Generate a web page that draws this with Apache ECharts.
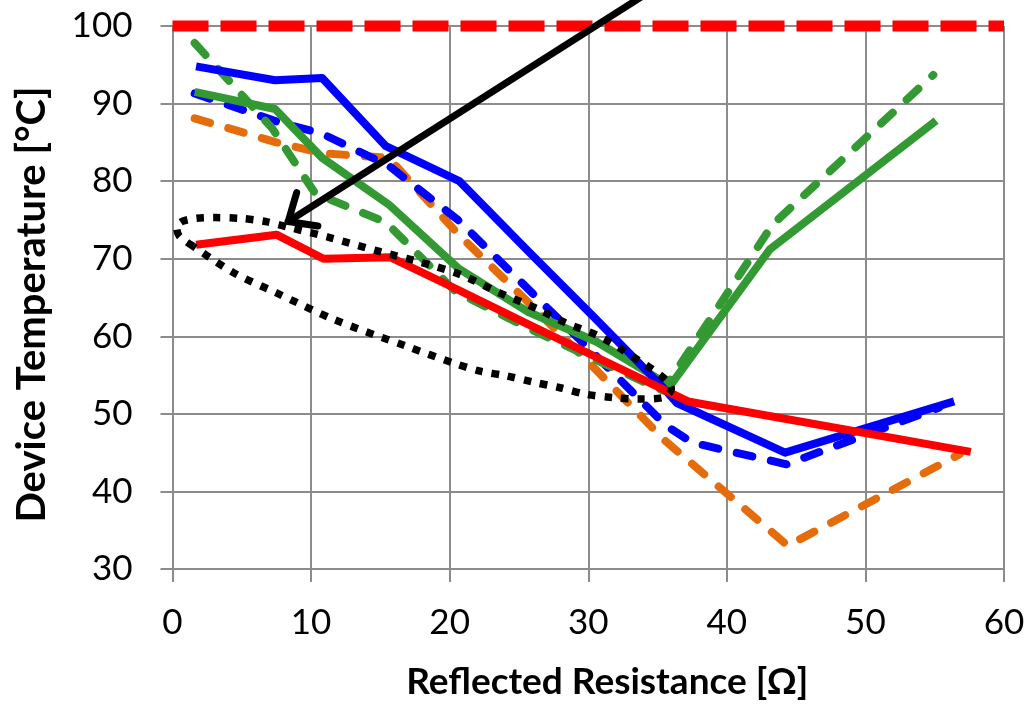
<!DOCTYPE html>
<html>
<head>
<meta charset="utf-8">
<script src="https://cdn.jsdelivr.net/npm/echarts@6/dist/echarts.min.js"></script>
<style>html,body{margin:0;padding:0;background:#fff}#c{width:1029px;height:706px}</style>
</head>
<body>
<div id="c"></div>
<script>
// ---- data ----
var xTicks = [0, 10, 20, 30, 40, 50, 60];
var yTicks = [30, 40, 50, 60, 70, 80, 90, 100];
var limitLine = [[0, 100], [60, 100]];
var redSolid = [[1.7,71.8],[7.5,73.1],[10.9,70.0],[15.7,70.2],[20.6,66.0],[25.6,61.6],[30.6,57.3],[35.6,53.0],[37.2,51.6],[57.6,45.1]];
var blueSolid = [[1.7,94.8],[7.4,93.0],[10.8,93.3],[15.4,84.5],[20.7,80.0],[25.6,71.1],[30.5,62.3],[35.5,53.2],[36.4,51.4],[44.2,45.0],[56.4,51.6]];
var blueDashed = [[1.6,91.3],[7.5,87.7],[10.8,86.1],[15.6,82.0],[20.6,75.0],[25.6,66.2],[30.5,57.6],[35.6,48.5],[37.5,46.3],[44.3,43.5],[55.3,50.8]];
var orangeDashed = [[1.6,88.1],[7.5,85.0],[10.8,83.6],[15.6,83.0],[20.6,73.2],[25.6,64.5],[30.6,55.6],[35.5,46.6],[44.4,33.0],[56.8,44.8]];
var greenSolid = [[1.6,91.5],[7.4,89.3],[10.8,83.0],[15.6,77.0],[20.6,68.8],[25.6,63.2],[30.6,59.3],[35.9,53.6],[43.1,71.2],[55.1,87.8]];
var greenDashed = [[1.6,97.8],[7.2,86.8],[10.3,78.4],[15.4,74.7],[20.4,65.8],[25.5,61.2],[30.5,57.0],[35.4,53.0],[43.3,74.4],[54.9,93.7]];
var ellipseLoop = [[1.5,71.6],[0.5,72.9],[0.3,74.0],[0.7,74.8],[1.7,75.2],[3.1,75.3],[4.9,75.2],[6.7,74.8],[8.5,74.0],[11.4,72.7],[15.0,70.9],[17.8,69.6],[20.7,68.0],[23.6,65.6],[26.5,63.4],[28.4,61.7],[30.8,60.0],[33.2,57.4],[35.4,54.7],[36.0,53.2],[35.4,52.1],[33.7,51.9],[31.8,52.1],[29.9,52.5],[27.9,53.4],[26.0,54.1],[24.1,54.9],[22.2,55.5],[20.2,56.6],[16.9,58.7],[11.6,62.2],[7.5,65.6],[4.4,68.2],[1.5,71.6]];
var arrow = [[34.4, 104.4, 8.35, 74.8]];

var FONT = 'Lato';
var GRIDC = '#8c8c8c';

function lineSeries(name, data, color, dashed, z) {
  return {
    name: name, type: 'line', data: data, showSymbol: false, symbol: 'none',
    z: z, clip: false, animation: false,
    lineStyle: { color: color, width: 8, type: dashed ? [16, 19] : 'solid', cap: dashed ? 'round' : 'butt', join: 'round' }
  };
}

var chart = echarts.init(document.getElementById('c'));
chart.setOption({
  animation: false,
  backgroundColor: '#fff',
  grid: { left: 172.5, right: 25, top: 26, bottom: 136, containLabel: false },
  xAxis: {
    type: 'value', min: 0, max: 60, interval: 10,
    name: 'Reflected Resistance [Ω]', nameLocation: 'middle', nameGap: 95,
    nameTextStyle: { fontFamily: FONT, fontWeight: 'bold', fontSize: 37, color: '#000', padding: [0, 0, 0, 38] },
    axisLine: { show: true, lineStyle: { color: GRIDC, width: 2 } },
    axisTick: { show: true, inside: false, length: 13, lineStyle: { color: GRIDC, width: 2 } },
    axisLabel: { fontFamily: FONT, fontSize: 35, color: '#000', margin: 36,
      formatter: function (v) { return xTicks.indexOf(v) >= 0 ? String(v) : ''; } },
    splitLine: { show: true, lineStyle: { color: GRIDC, width: 2 } }
  },
  yAxis: {
    type: 'value', min: 30, max: 100, interval: 10,
    name: 'Device Temperature [°C]', nameLocation: 'middle', nameGap: 120,
    nameTextStyle: { fontFamily: FONT, fontWeight: 'bold', fontSize: 40, color: '#000', padding: [0, 14, 0, 0] },
    axisLine: { show: true, lineStyle: { color: GRIDC, width: 2 } },
    axisTick: { show: true, inside: false, length: 12, lineStyle: { color: GRIDC, width: 2 } },
    axisLabel: { fontFamily: FONT, fontSize: 35, color: '#000', margin: 40,
      formatter: function (v) { return yTicks.indexOf(v) >= 0 ? String(v) : ''; } },
    splitLine: { show: true, lineStyle: { color: GRIDC, width: 2 } }
  },
  series: [
    lineSeries('orange dashed', orangeDashed, '#E46C0A', true, 2),
    lineSeries('blue dashed', blueDashed, '#0000FF', true, 3),
    lineSeries('green solid', greenSolid, '#339933', false, 4),
    lineSeries('green dashed', greenDashed, '#339933', true, 5),
    lineSeries('blue solid', blueSolid, '#0000FF', false, 6),
    lineSeries('red solid', redSolid, '#FF0000', false, 7),
    {
      name: 'ellipse', type: 'line', data: ellipseLoop, showSymbol: false, symbol: 'none',
      smooth: 0.3, z: 8, clip: false,
      lineStyle: { color: '#000', width: 7.5, type: [7.5, 9], cap: 'butt' }
    },
    {
      name: 'limit', type: 'line', data: limitLine, showSymbol: false, symbol: 'none', z: 9, clip: false,
      lineStyle: { color: '#FF0000', width: 11, type: [36, 12], cap: 'butt' }
    },
    {
      name: 'arrow', type: 'custom', data: arrow, z: 10, clip: false,
      renderItem: function (params, api) {
        var s = api.coord([api.value(0), api.value(1)]);
        var t = api.coord([api.value(2), api.value(3)]);
        var ang = Math.atan2(s[1] - t[1], s[0] - t[0]);
        var L = 30, spread = 0.72;
        var a1 = [t[0] + L * Math.cos(ang + spread), t[1] + L * Math.sin(ang + spread)];
        var a2 = [t[0] + L * Math.cos(ang - spread), t[1] + L * Math.sin(ang - spread)];
        var st = { stroke: '#000', lineWidth: 7, lineCap: 'round', lineJoin: 'round', fill: null };
        return {
          type: 'group', children: [
            { type: 'line', shape: { x1: s[0], y1: s[1], x2: t[0], y2: t[1] }, style: st },
            { type: 'polyline', shape: { points: [a1, t, a2] }, style: st }
          ]
        };
      }
    }
  ]
});
</script>
</body>
</html>
